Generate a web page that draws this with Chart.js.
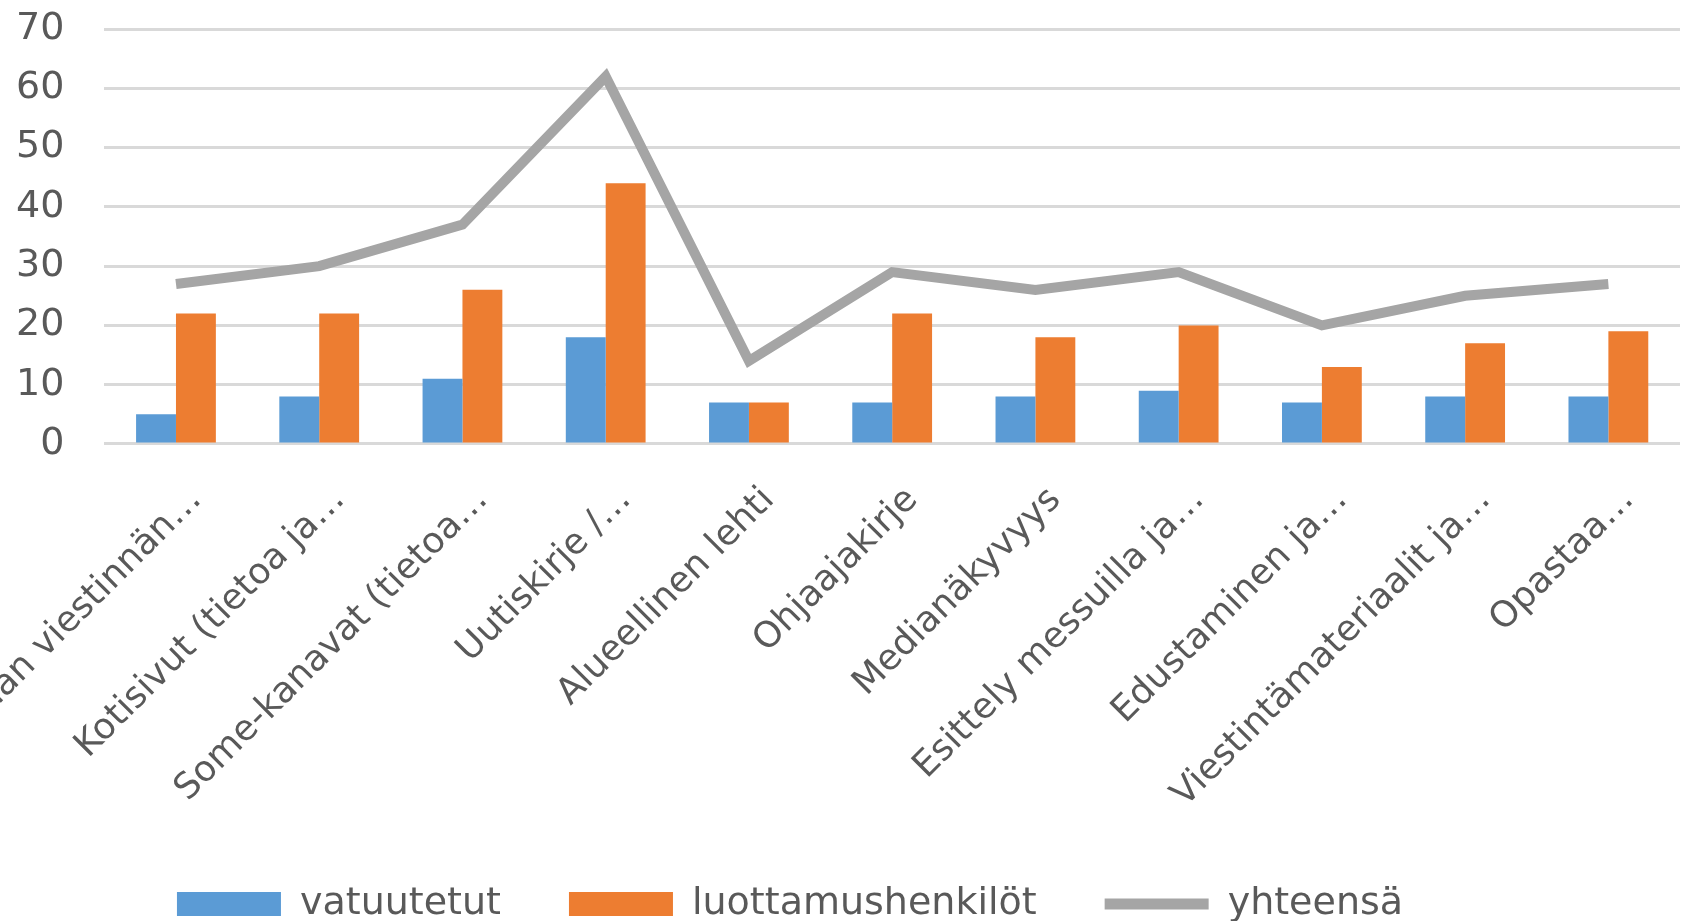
<!DOCTYPE html>
<html>
<head>
<meta charset="utf-8">
<script src="https://cdn.jsdelivr.net/npm/chart.js@4"></script>
<style>
  body { margin: 0; background: #fff; }
  #wrap { width: 1689px; height: 921px; }
</style>
</head>
<body>
<div id="wrap"><canvas id="chart"></canvas></div>
<script>
// --- data ---
const categories = [
    'Piirin oman viestinnän…',
    'Kotisivut (tietoa ja…',
    'Some-kanavat (tietoa…',
    'Uutiskirje /…',
    'Alueellinen lehti',
    'Ohjaajakirje',
    'Medianäkyvyys',
    'Esittely messuilla ja…',
    'Edustaminen ja…',
    'Viestintämateriaalit ja…',
    'Opastaa…'
];
const vatuutetut = [5, 8, 11, 18, 7, 7, 8, 9, 7, 8, 8];
const luottamushenkilot = [22, 22, 26, 44, 7, 22, 18, 20, 13, 17, 19];
const yhteensa = [27, 30, 37, 62, 14, 29, 26, 29, 20, 25, 27];
const yTicks = [0, 10, 20, 30, 40, 50, 60, 70];

const textColor = '#595959';
const font = { family: 'DejaVu Sans', size: 38 };

// legend sits a bit left of centre in the original
const legendShift = {
    id: 'legendShift',
    afterLayout(chart) {
        chart.legend.left -= 38;
        chart.legend.right -= 38;
    }
};

new Chart(document.getElementById('chart'), {
    type: 'bar',
    data: {
        labels: categories,
        datasets: [
            { label: 'vatuutetut', data: vatuutetut, backgroundColor: '#5B9BD5', order: 1,
              categoryPercentage: 0.557, barPercentage: 1 },
            { label: 'luottamushenkilöt', data: luottamushenkilot, backgroundColor: '#ED7D31', order: 1,
              categoryPercentage: 0.557, barPercentage: 1 },
            { type: 'line', label: 'yhteensä', data: yhteensa, borderColor: '#A5A5A5', backgroundColor: '#A5A5A5',
              borderWidth: 10, pointRadius: 0, tension: 0, order: 0 }
        ]
    },
    plugins: [legendShift],
    options: {
        responsive: true,
        maintainAspectRatio: false,
        animation: false,
        layout: { padding: { left: -24, right: 9, top: 29, bottom: -12 } },
        plugins: {
            tooltip: { enabled: false },
            legend: {
                position: 'bottom',
                labels: {
                    color: textColor,
                    font: font,
                    usePointStyle: true,
                    pointStyleWidth: 104,
                    boxHeight: 24,
                    padding: 68,
                    sort: (a, b) => a.datasetIndex - b.datasetIndex,
                    generateLabels: chart => {
                        const items = Chart.defaults.plugins.legend.labels.generateLabels(chart);
                        items.forEach(it => {
                            const ds = chart.data.datasets[it.datasetIndex];
                            if (ds.type === 'line') {
                                it.pointStyle = 'line';
                                it.lineWidth = 11;
                                it.strokeStyle = ds.borderColor;
                            } else {
                                it.pointStyle = 'rect';
                                it.lineWidth = 0;
                                it.fillStyle = ds.backgroundColor;
                            }
                        });
                        return items;
                    }
                }
            }
        },
        scales: {
            x: {
                grid: { display: false },
                border: { display: false },
                ticks: { color: textColor, font: { family: 'DejaVu Sans', size: 36 },
                         minRotation: 45, maxRotation: 45, autoSkip: false,
                         padding: 27, labelOffset: 20 },
                afterFit: s => { s.paddingLeft = 0; s.paddingRight = 0; s.height -= 28; }
            },
            y: {
                min: 0,
                max: 70,
                afterBuildTicks: axis => { axis.ticks = yTicks.map(v => ({ value: v })); },
                grid: { color: '#D9D9D9', lineWidth: 3, drawTicks: false },
                border: { display: false },
                ticks: { color: textColor, font: font, padding: 40 },
                afterFit: s => { s.paddingTop = 0; s.paddingBottom = 0; }
            }
        }
    }
});
</script>
</body>
</html>
